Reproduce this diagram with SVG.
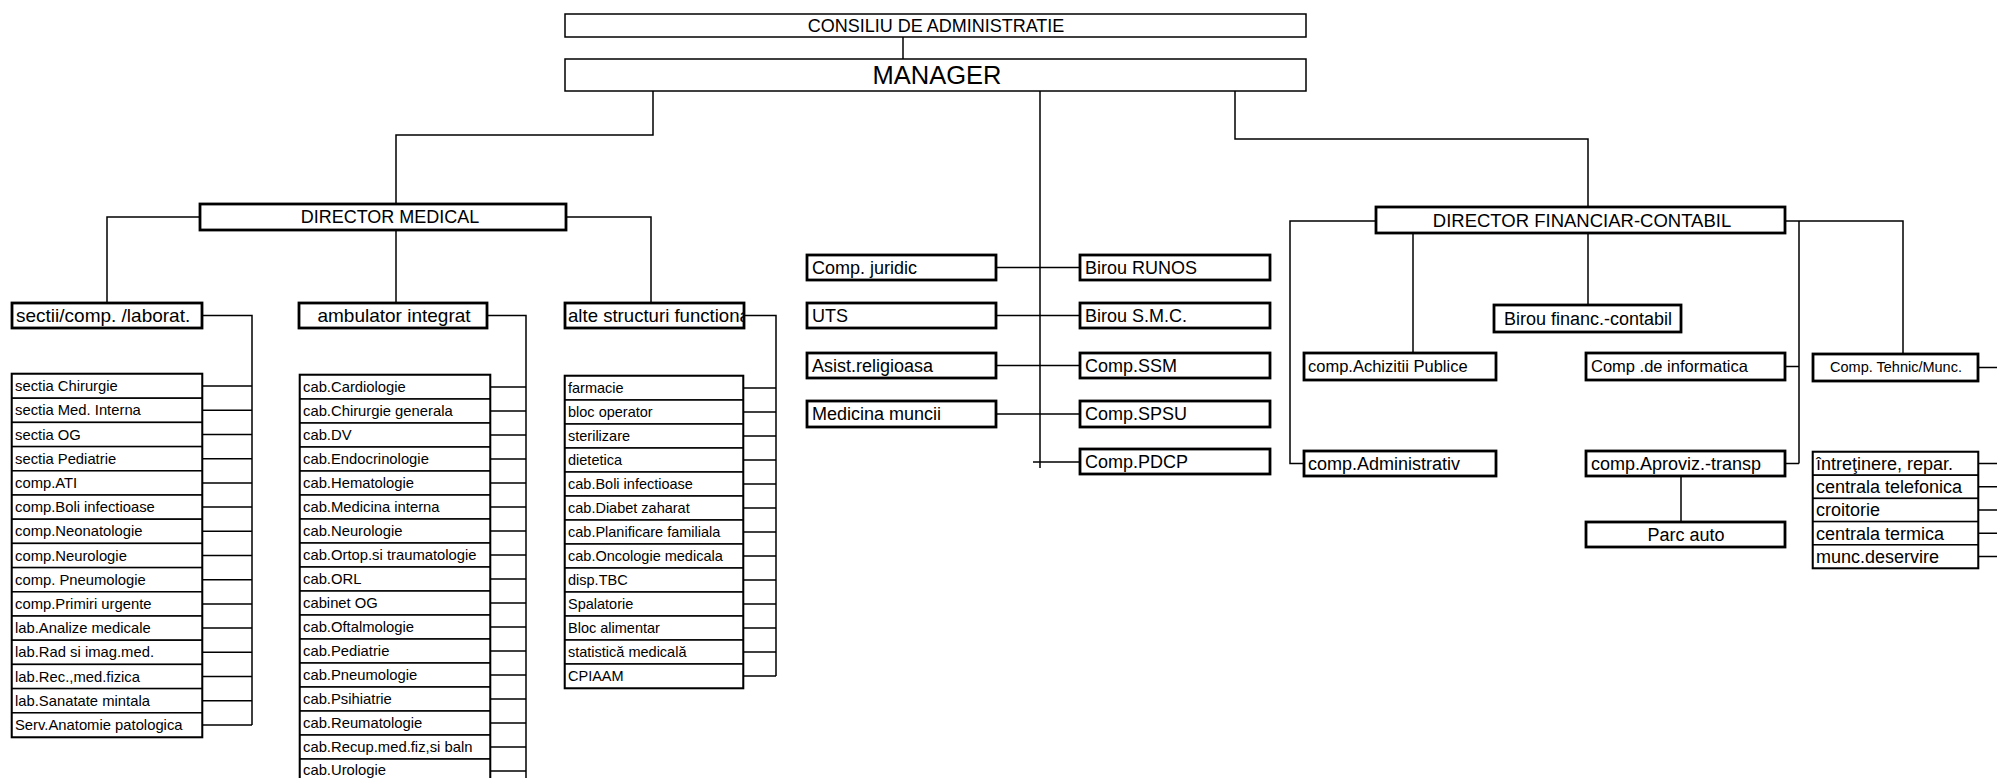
<svg xmlns="http://www.w3.org/2000/svg" width="1997" height="778" viewBox="0 0 1997 778">
<style>
text{font-family:"Liberation Sans",Arial,sans-serif;fill:#000}
.bx{fill:#fff;stroke:#000;stroke-width:2.8}
.bt{fill:#fff;stroke:#000;stroke-width:1.5}
.row{fill:#fff;stroke:#000;stroke-width:1.5}
.lo{fill:none;stroke:#000;stroke-width:2.6}
.cn path{fill:none;stroke:#000;stroke-width:1.5}
.t18{font-size:18px}
.t19{font-size:19px}
.tl{font-size:14.8px}
.ta{font-size:14.5px}
.tr{font-size:18px}
.mid{text-anchor:middle}
</style>
<defs>
<clipPath id="clipAlte"><rect x="566" y="304" width="177" height="23"/></clipPath>
</defs>

<g id="connectors" class="cn">
<path d="M903 37V59"/>
<path d="M653 91V135H396V204"/>
<path d="M1040 91V468"/>
<path d="M1235 91V139H1588V207"/>
<path d="M200 217H107V303"/>
<path d="M396 230V303"/>
<path d="M566 217H651V303"/>
<path d="M202 315.5H252V725"/>
<path d="M202 386.1H252M202 410.3H252M202 434.5H252M202 458.7H252M202 482.9H252M202 507.1H252M202 531.3H252M202 555.5H252M202 579.7H252M202 603.9H252M202 628.1H252M202 652.3H252M202 676.5H252M202 700.7H252M202 724.9H252"/>
<path d="M487 315.5H526V778"/>
<path d="M490 387H526M490 411H526M490 435H526M490 459H526M490 483H526M490 507H526M490 531H526M490 555H526M490 579H526M490 603H526M490 627H526M490 651H526M490 675H526M490 699H526M490 723H526M490 747H526M490 771H526"/>
<path d="M744 315.5H776V676"/>
<path d="M743 388H776M743 412H776M743 436H776M743 460H776M743 484H776M743 508H776M743 532H776M743 556H776M743 580H776M743 604H776M743 628H776M743 652H776M743 676H776"/>
<path d="M996 267.5H1080M996 315.5H1080M996 365.5H1080M996 414H1080M1033 462H1080"/>
<path d="M1376 221H1290V463.5H1304"/>
<path d="M1413 233V353"/>
<path d="M1588 233V305"/>
<path d="M1785 221H1903V354"/>
<path d="M1799 221V463.5M1785 366.5H1799M1785 463.5H1799"/>
<path d="M1681 476V522"/>
<path d="M1978 367.5H1997"/>
<path d="M1978 463.6H1997M1978 486.8H1997M1978 510H1997M1978 533.2H1997M1978 556.4H1997"/>
</g>

<g id="consiliu"><rect class="bt" x="565" y="14" width="741" height="23"/><text class="t18 mid" x="936" y="32">CONSILIU DE ADMINISTRATIE</text></g>
<g id="manager"><rect class="bt" x="565" y="59" width="741" height="32"/><text class="mid" x="937" y="84" font-size="25.5">MANAGER</text></g>

<g id="director-medical"><rect class="bx" x="200" y="204" width="366" height="26"/><text class="t18 mid" x="390" y="223">DIRECTOR MEDICAL</text></g>
<g id="sectii"><rect class="bx" x="12" y="303" width="190" height="25"/><text class="t19" x="16" y="322">sectii/comp. /laborat.</text></g>
<g id="ambulator"><rect class="bx" x="299" y="303" width="188" height="25"/><text class="t19 mid" x="394" y="322">ambulator integrat</text></g>
<g id="alte"><rect class="bx" x="565" y="303" width="179" height="25"/><text x="568" y="322" font-size="18.6" clip-path="url(#clipAlte)">alte structuri functiona</text></g>

<g id="sectii-list">
<rect class="lo" x="12" y="374" width="190" height="363"/>
<g id="s1"><rect class="row" x="12" y="374" width="190" height="24.2"/><text class="tl" x="15" y="391.2">sectia Chirurgie</text></g>
<g id="s2"><rect class="row" x="12" y="398.2" width="190" height="24.2"/><text class="tl" x="15" y="415.4">sectia Med. Interna</text></g>
<g id="s3"><rect class="row" x="12" y="422.4" width="190" height="24.2"/><text class="tl" x="15" y="439.6">sectia OG</text></g>
<g id="s4"><rect class="row" x="12" y="446.6" width="190" height="24.2"/><text class="tl" x="15" y="463.8">sectia Pediatrie</text></g>
<g id="s5"><rect class="row" x="12" y="470.8" width="190" height="24.2"/><text class="tl" x="15" y="488">comp.ATI</text></g>
<g id="s6"><rect class="row" x="12" y="495" width="190" height="24.2"/><text class="tl" x="15" y="512.2">comp.Boli infectioase</text></g>
<g id="s7"><rect class="row" x="12" y="519.2" width="190" height="24.2"/><text class="tl" x="15" y="536.4">comp.Neonatologie</text></g>
<g id="s8"><rect class="row" x="12" y="543.4" width="190" height="24.2"/><text class="tl" x="15" y="560.6">comp.Neurologie</text></g>
<g id="s9"><rect class="row" x="12" y="567.6" width="190" height="24.2"/><text class="tl" x="15" y="584.8">comp. Pneumologie</text></g>
<g id="s10"><rect class="row" x="12" y="591.8" width="190" height="24.2"/><text class="tl" x="15" y="609">comp.Primiri urgente</text></g>
<g id="s11"><rect class="row" x="12" y="616" width="190" height="24.2"/><text class="tl" x="15" y="633.2">lab.Analize medicale</text></g>
<g id="s12"><rect class="row" x="12" y="640.2" width="190" height="24.2"/><text class="tl" x="15" y="657.4">lab.Rad si imag.med.</text></g>
<g id="s13"><rect class="row" x="12" y="664.4" width="190" height="24.2"/><text class="tl" x="15" y="681.6">lab.Rec.,med.fizica</text></g>
<g id="s14"><rect class="row" x="12" y="688.6" width="190" height="24.2"/><text class="tl" x="15" y="705.8">lab.Sanatate mintala</text></g>
<g id="s15"><rect class="row" x="12" y="712.8" width="190" height="24.2"/><text class="tl" x="15" y="730">Serv.Anatomie patologica</text></g>
</g>

<g id="ambulator-list">
<rect class="lo" x="300" y="375" width="190" height="410"/>
<g id="a1"><rect class="row" x="300" y="375" width="190" height="24"/><text class="tl" x="303" y="392">cab.Cardiologie</text></g>
<g id="a2"><rect class="row" x="300" y="399" width="190" height="24"/><text class="tl" x="303" y="416">cab.Chirurgie generala</text></g>
<g id="a3"><rect class="row" x="300" y="423" width="190" height="24"/><text class="tl" x="303" y="440">cab.DV</text></g>
<g id="a4"><rect class="row" x="300" y="447" width="190" height="24"/><text class="tl" x="303" y="464">cab.Endocrinologie</text></g>
<g id="a5"><rect class="row" x="300" y="471" width="190" height="24"/><text class="tl" x="303" y="488">cab.Hematologie</text></g>
<g id="a6"><rect class="row" x="300" y="495" width="190" height="24"/><text class="tl" x="303" y="512">cab.Medicina interna</text></g>
<g id="a7"><rect class="row" x="300" y="519" width="190" height="24"/><text class="tl" x="303" y="536">cab.Neurologie</text></g>
<g id="a8"><rect class="row" x="300" y="543" width="190" height="24"/><text class="tl" x="303" y="560">cab.Ortop.si traumatologie</text></g>
<g id="a9"><rect class="row" x="300" y="567" width="190" height="24"/><text class="tl" x="303" y="584">cab.ORL</text></g>
<g id="a10"><rect class="row" x="300" y="591" width="190" height="24"/><text class="tl" x="303" y="608">cabinet OG</text></g>
<g id="a11"><rect class="row" x="300" y="615" width="190" height="24"/><text class="tl" x="303" y="632">cab.Oftalmologie</text></g>
<g id="a12"><rect class="row" x="300" y="639" width="190" height="24"/><text class="tl" x="303" y="656">cab.Pediatrie</text></g>
<g id="a13"><rect class="row" x="300" y="663" width="190" height="24"/><text class="tl" x="303" y="680">cab.Pneumologie</text></g>
<g id="a14"><rect class="row" x="300" y="687" width="190" height="24"/><text class="tl" x="303" y="704">cab.Psihiatrie</text></g>
<g id="a15"><rect class="row" x="300" y="711" width="190" height="24"/><text class="tl" x="303" y="728">cab.Reumatologie</text></g>
<g id="a16"><rect class="row" x="300" y="735" width="190" height="24"/><text class="tl" x="303" y="752">cab.Recup.med.fiz,si baln</text></g>
<g id="a17"><rect class="row" x="300" y="759" width="190" height="24"/><text class="tl" x="303" y="775">cab.Urologie</text></g>
</g>

<g id="alte-list">
<rect class="lo" x="565" y="376" width="178" height="312"/>
<g id="f1"><rect class="row" x="565" y="376" width="178" height="24"/><text class="ta" x="568" y="393">farmacie</text></g>
<g id="f2"><rect class="row" x="565" y="400" width="178" height="24"/><text class="ta" x="568" y="417">bloc operator</text></g>
<g id="f3"><rect class="row" x="565" y="424" width="178" height="24"/><text class="ta" x="568" y="441">sterilizare</text></g>
<g id="f4"><rect class="row" x="565" y="448" width="178" height="24"/><text class="ta" x="568" y="465">dietetica</text></g>
<g id="f5"><rect class="row" x="565" y="472" width="178" height="24"/><text class="ta" x="568" y="489">cab.Boli infectioase</text></g>
<g id="f6"><rect class="row" x="565" y="496" width="178" height="24"/><text class="ta" x="568" y="513">cab.Diabet zaharat</text></g>
<g id="f7"><rect class="row" x="565" y="520" width="178" height="24"/><text class="ta" x="568" y="537">cab.Planificare familiala</text></g>
<g id="f8"><rect class="row" x="565" y="544" width="178" height="24"/><text class="ta" x="568" y="561">cab.Oncologie medicala</text></g>
<g id="f9"><rect class="row" x="565" y="568" width="178" height="24"/><text class="ta" x="568" y="585">disp.TBC</text></g>
<g id="f10"><rect class="row" x="565" y="592" width="178" height="24"/><text class="ta" x="568" y="609">Spalatorie</text></g>
<g id="f11"><rect class="row" x="565" y="616" width="178" height="24" stroke-width="2.4"/><text class="ta" x="568" y="633">Bloc alimentar</text></g>
<g id="f12"><rect class="row" x="565" y="640" width="178" height="24" stroke-width="2.4"/><text class="ta" x="568" y="657">statistică medicală</text></g>
<g id="f13"><rect class="row" x="565" y="664" width="178" height="24"/><text class="ta" x="568" y="681">CPIAAM</text></g>
</g>

<g id="comp-juridic"><rect class="bx" x="807" y="255" width="189" height="25"/><text class="t18" x="812" y="274">Comp. juridic</text></g>
<g id="uts"><rect class="bx" x="807" y="303" width="189" height="25"/><text class="t18" x="812" y="322">UTS</text></g>
<g id="asist"><rect class="bx" x="807" y="353" width="189" height="25"/><text class="t18" x="812" y="372">Asist.religioasa</text></g>
<g id="medicina-muncii"><rect class="bx" x="807" y="401" width="189" height="26"/><text class="t18" x="812" y="420">Medicina muncii</text></g>
<g id="runos"><rect class="bx" x="1080" y="255" width="190" height="25"/><text class="t18" x="1085" y="274">Birou RUNOS</text></g>
<g id="smc"><rect class="bx" x="1080" y="303" width="190" height="25"/><text class="t18" x="1085" y="322">Birou S.M.C.</text></g>
<g id="ssm"><rect class="bx" x="1080" y="353" width="190" height="25"/><text class="t18" x="1085" y="372">Comp.SSM</text></g>
<g id="spsu"><rect class="bx" x="1080" y="401" width="190" height="26"/><text class="t18" x="1085" y="420">Comp.SPSU</text></g>
<g id="pdcp"><rect class="bx" x="1080" y="449" width="190" height="25"/><text class="t18" x="1085" y="468">Comp.PDCP</text></g>

<g id="director-financiar"><rect class="bx" x="1376" y="207" width="409" height="26"/><text class="mid" x="1582" y="227" font-size="18.5">DIRECTOR FINANCIAR-CONTABIL</text></g>
<g id="birou-financ"><rect class="bx" x="1494" y="305" width="187" height="27"/><text class="t18 mid" x="1588" y="325">Birou financ.-contabil</text></g>
<g id="achizitii"><rect class="bx" x="1304" y="353" width="192" height="27"/><text x="1308" y="372" font-size="16.5">comp.Achizitii Publice</text></g>
<g id="informatica"><rect class="bx" x="1586" y="353" width="199" height="27"/><text x="1591" y="372" font-size="16.5">Comp .de informatica</text></g>
<g id="administrativ"><rect class="bx" x="1304" y="451" width="192" height="25"/><text class="t18" x="1308" y="470">comp.Administrativ</text></g>
<g id="aproviz"><rect class="bx" x="1586" y="451" width="199" height="25"/><text class="t18" x="1591" y="470">comp.Aproviz.-transp</text></g>
<g id="parc-auto"><rect class="bx" x="1586" y="522" width="199" height="25"/><text class="t18 mid" x="1686" y="541">Parc auto</text></g>
<g id="tehnic"><rect class="bx" x="1813" y="354" width="165" height="27"/><text class="mid" x="1896" y="372" font-size="14.5">Comp. Tehnic/Munc.</text></g>

<g id="tehnic-list">
<rect class="lo" x="1813" y="452" width="165" height="116"/>
<g id="t1"><rect class="row" x="1813" y="452" width="165" height="23.2"/><text class="tr" x="1816" y="470">întreţinere, repar.</text></g>
<g id="t2"><rect class="row" x="1813" y="475.2" width="165" height="23.2"/><text class="tr" x="1816" y="493.2">centrala telefonica</text></g>
<g id="t3"><rect class="row" x="1813" y="498.4" width="165" height="23.2"/><text class="tr" x="1816" y="516.4">croitorie</text></g>
<g id="t4"><rect class="row" x="1813" y="521.6" width="165" height="23.2"/><text class="tr" x="1816" y="539.6">centrala termica</text></g>
<g id="t5"><rect class="row" x="1813" y="544.8" width="165" height="23.2"/><text class="tr" x="1816" y="562.8">munc.deservire</text></g>
</g>
</svg>
